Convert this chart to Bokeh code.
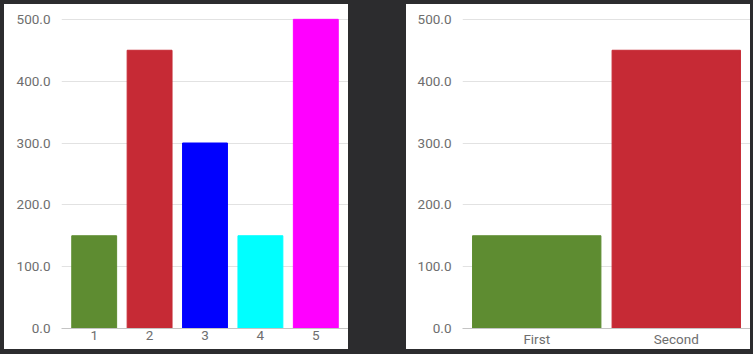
from bokeh.plotting import figure
from bokeh.models import ColumnDataSource, FactorRange, Range1d, FixedTicker, NumeralTickFormatter
from bokeh.layouts import row
from bokeh.embed import file_html
from bokeh.resources import INLINE

# data
left_categories = ["1", "2", "3", "4", "5"]
left_values = [150, 450, 300, 150, 500]
left_colors = ["#5e8c31", "#c62a35", "#0000ff", "#00ffff", "#ff00ff"]

right_categories = ["First", "Second"]
right_values = [150, 450]
right_colors = ["#5e8c31", "#c62a35"]

y_ticks = [0, 100, 200, 300, 400, 500]

BG = "#2c2c2e"
TXT = "#6e6e6e"
FONT = "Roboto"


def make_panel(cats, vals, cols, pad, bar_w, left_border):
    src = ColumnDataSource(dict(x=cats, top=vals, color=cols))
    p = figure(
        width=344, height=345,
        x_range=FactorRange(*cats, range_padding=pad),
        y_range=Range1d(0, 524),
        output_backend="svg", toolbar_location=None,
        min_border_left=left_border, min_border_right=0,
        min_border_top=0, min_border_bottom=10,
        styles={"background-color": "white"},
    )
    p.vbar(x="x", top="top", width=bar_w, color="color", source=src)
    p.outline_line_color = None
    p.background_fill_color = "white"
    p.border_fill_color = "white"
    p.xgrid.grid_line_color = None
    p.xgrid.visible = False
    p.ygrid.grid_line_color = "#e2e2e2"
    p.ygrid.grid_line_width = 1
    p.yaxis.ticker = FixedTicker(ticks=y_ticks)
    p.yaxis.formatter = NumeralTickFormatter(format="0.0")
    for ax in (p.xaxis[0], p.yaxis[0]):
        ax.major_tick_line_color = None
        ax.minor_tick_line_color = None
        ax.major_tick_out = 0
        ax.major_tick_in = 0
        ax.minor_tick_out = 0
        ax.minor_tick_in = 0
        ax.major_label_text_color = TXT
        ax.major_label_text_font = FONT
        ax.major_label_text_font_size = "13.5px"
    p.yaxis[0].axis_line_color = None
    p.yaxis[0].major_label_standoff = 11
    p.xaxis[0].axis_line_color = "#c4c4c4"
    p.xaxis[0].major_label_standoff = 2
    return p


p1 = make_panel(left_categories, left_values, left_colors, 0.036, 0.81, 57)
p2 = make_panel(right_categories, right_values, right_colors, 0.032, 0.92, 56)

layout = row(p1, p2, spacing=58,
             styles={"background-color": BG, "padding": "4px 3px 5px 4px"})

open("out.html", "w").write(file_html(layout, INLINE))
